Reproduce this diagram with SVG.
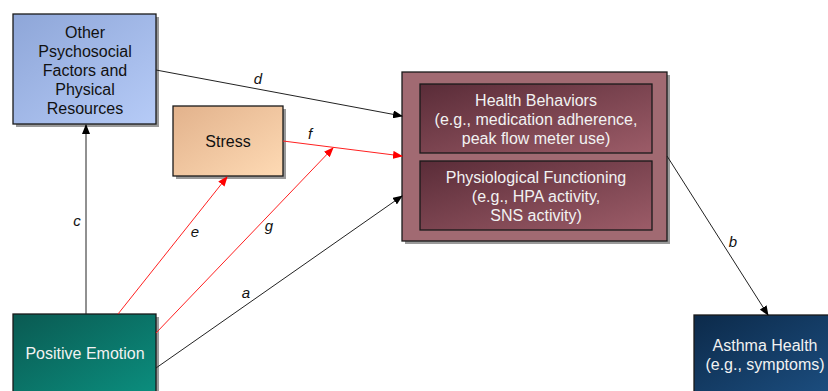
<svg xmlns="http://www.w3.org/2000/svg" width="828" height="391" viewBox="0 0 828 391">
<defs>
<linearGradient id="gBlue" x1="0" y1="0" x2="1" y2="1"><stop offset="0" stop-color="#8ea6d8"/><stop offset="1" stop-color="#b6cbf7"/></linearGradient>
<linearGradient id="gPeach" x1="0" y1="0" x2="1" y2="1"><stop offset="0" stop-color="#e2b28c"/><stop offset="1" stop-color="#fedab4"/></linearGradient>
<linearGradient id="gInner" x1="0" y1="0" x2="1" y2="1"><stop offset="0" stop-color="#5a2c38"/><stop offset="1" stop-color="#9c5c68"/></linearGradient>
<linearGradient id="gTeal" x1="0" y1="0" x2="1" y2="1"><stop offset="0" stop-color="#0a5a52"/><stop offset="1" stop-color="#0b8e7e"/></linearGradient>
<linearGradient id="gNavy" x1="0" y1="0" x2="1" y2="1"><stop offset="0" stop-color="#0c2a4a"/><stop offset="1" stop-color="#1c4e80"/></linearGradient>
<marker id="ab" markerWidth="10" markerHeight="8" refX="9" refY="4" orient="auto" markerUnits="userSpaceOnUse"><path d="M0,0 L10,4 L0,8 Z" fill="#000"/></marker>
<marker id="ar" markerWidth="10" markerHeight="8" refX="9" refY="4" orient="auto" markerUnits="userSpaceOnUse"><path d="M0,0 L10,4 L0,8 Z" fill="#ff0000"/></marker>
</defs>
<style>
.box{stroke:#1a1a1a;stroke-width:1.3}
.sh{fill:#9a9a9a}
.t{font-family:"Liberation Sans",Arial,sans-serif;font-size:16px;text-anchor:middle}
.dk{fill:#111}
.lt{fill:#f2f2f2}
.lab{font-family:"Liberation Sans",Arial,sans-serif;font-size:15px;font-style:italic;fill:#111;text-anchor:middle}
.cb{stroke:#222;stroke-width:1;fill:none;marker-end:url(#ab)}
.cr{stroke:#ff2020;stroke-width:1;fill:none;marker-end:url(#ar)}
</style>
<rect width="828" height="391" fill="#fff"/>
<g id="other">
<rect class="sh" x="16" y="17" width="143" height="110"/>
<rect class="box" x="13" y="14" width="143" height="110" fill="url(#gBlue)"/>
<text class="t dk" x="85" y="38">Other</text>
<text class="t dk" x="85" y="57">Psychosocial</text>
<text class="t dk" x="85" y="76">Factors and</text>
<text class="t dk" x="85" y="95">Physical</text>
<text class="t dk" x="85" y="114">Resources</text>
</g>
<g id="stress">
<rect class="sh" x="176" y="109" width="110" height="70"/>
<rect class="box" x="173" y="106" width="110" height="70" fill="url(#gPeach)"/>
<text class="t dk" x="228" y="147">Stress</text>
</g>
<g id="mediators">
<rect class="sh" x="405" y="75" width="265" height="169"/>
<rect class="box" x="402" y="72" width="265" height="169" fill="#a16a72"/>
<g id="health-behaviors">
<rect class="box" x="420" y="84" width="232" height="69" fill="url(#gInner)"/>
<text class="t lt" x="536" y="106">Health Behaviors</text>
<text class="t lt" x="536" y="125">(e.g., medication adherence,</text>
<text class="t lt" x="536" y="144">peak flow meter use)</text>
</g>
<g id="physiological">
<rect class="box" x="420" y="161" width="232" height="69" fill="url(#gInner)"/>
<text class="t lt" x="536" y="183">Physiological Functioning</text>
<text class="t lt" x="536" y="202">(e.g., HPA activity,</text>
<text class="t lt" x="536" y="221">SNS activity)</text>
</g>
</g>
<g id="positive-emotion">
<rect class="sh" x="16" y="317" width="143" height="80"/>
<rect class="box" x="13" y="314" width="143" height="80" fill="url(#gTeal)"/>
<text class="t lt" x="85" y="359">Positive Emotion</text>
</g>
<g id="asthma">
<rect class="box" x="694" y="315" width="140" height="80" fill="url(#gNavy)"/>
<text class="t lt" x="765" y="351">Asthma Health</text>
<text class="t lt" x="765" y="370">(e.g., symptoms)</text>
</g>
<g id="connectors">
<line class="cb" x1="86" y1="314" x2="86" y2="125"/>
<line class="cb" x1="156" y1="70" x2="402" y2="116"/>
<line class="cr" x1="283" y1="141" x2="402" y2="156"/>
<line class="cr" x1="118" y1="314" x2="227" y2="177"/>
<line class="cr" x1="156" y1="333" x2="333" y2="148"/>
<line class="cb" x1="156" y1="368" x2="402" y2="196"/>
<line class="cb" x1="667" y1="156" x2="768" y2="315"/>
<text class="lab" x="77" y="226">c</text>
<text class="lab" x="258" y="84">d</text>
<text class="lab" x="310" y="139">f</text>
<text class="lab" x="195" y="237">e</text>
<text class="lab" x="269" y="231">g</text>
<text class="lab" x="246" y="298">a</text>
<text class="lab" x="733" y="247">b</text>
</g>
</svg>
